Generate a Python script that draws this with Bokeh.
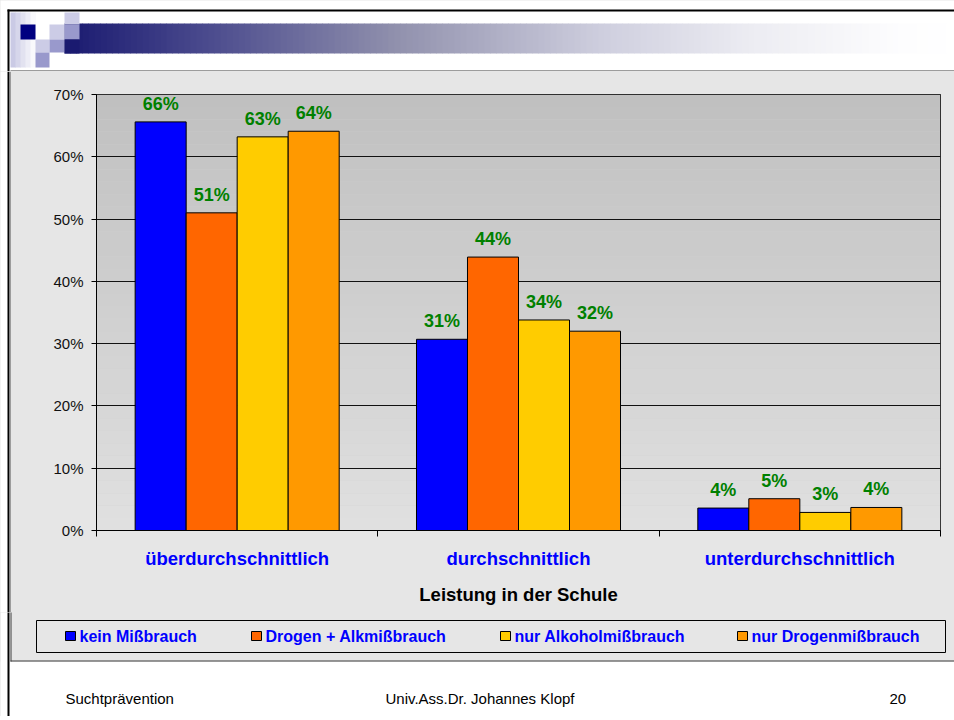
from bokeh.plotting import figure
from bokeh.layouts import column, row
from bokeh.models import (Range1d, FixedTicker, PrintfTickFormatter, BoxAnnotation,
                          ColumnDataSource, LinearAxis, Grid)
from bokeh.core.properties import value
from bokeh.embed import file_html
from bokeh.resources import INLINE

# ---------------- data ----------------
categories = ["überdurchschnittlich", "durchschnittlich", "unterdurchschnittlich"]
series_names = ["kein Mißbrauch", "Drogen + Alkmißbrauch", "nur Alkoholmißbrauch", "nur Drogenmißbrauch"]
kein_missbrauch = [65.6, 30.7, 3.6]
drogen_alkohol = [51.0, 43.9, 5.1]
nur_alkohol = [63.2, 33.8, 2.9]
nur_drogen = [64.1, 32.0, 3.7]
y_ticks = [0, 10, 20, 30, 40, 50, 60, 70]
x_title = "Leistung in der Schule"
footer_texts = ["Suchtprävention", "Univ.Ass.Dr. Johannes Klopf", "20"]

series_values = [kein_missbrauch, drogen_alkohol, nur_alkohol, nur_drogen]
series_colors = ["#0000FF", "#FF6600", "#FFCC00", "#FF9900"]

FONT = "Liberation Sans"
STONE = "#e6e6e6"
EDGE = "#3a3a3a"
PAGE_W = 954


def rgb(c):
    return "#%02x%02x%02x" % tuple(int(round(v)) for v in c)


def lerp(a, b, t):
    return tuple(a[k] + (b[k] - a[k]) * t for k in range(3))


def canvas_fig(x0, y0, w, h, bg):
    f = figure(width=w, height=h, x_range=Range1d(x0, x0 + w), y_range=Range1d(y0 + h, y0),
               min_border=0, x_axis_type=None, y_axis_type=None, toolbar_location=None,
               output_backend="svg")
    f.outline_line_color = None
    f.background_fill_color = bg
    f.border_fill_color = bg
    return f


def rects(f, boxes, colors, line=None):
    f.quad(left=[b[0] for b in boxes], right=[b[2] for b in boxes],
           top=[b[1] for b in boxes], bottom=[b[3] for b in boxes],
           fill_color=colors, line_color=line)


# ---------------- header (page y 0..71) ----------------
hdr = canvas_fig(0, 0, PAGE_W, 71, "white")
stops = [(64, (26, 26, 112)), (200, (72, 72, 140)), (400, (146, 146, 174)),
         (600, (206, 206, 222)), (750, (236, 236, 242)), (900, (253, 253, 254)),
         (960, (255, 255, 255))]
gb, gc = [], []
x = 64
step = 6
while x < PAGE_W:
    xc = x + step / 2
    col = stops[-1][1]
    for (xa, ca), (xb, cb) in zip(stops[:-1], stops[1:]):
        if xa <= xc <= xb:
            col = lerp(ca, cb, (xc - xa) / (xb - xa))
            break
    gb.append((x, 23, x + step + 0.5, 53))
    gc.append(rgb(col))
    x += step
rects(hdr, gb, gc)
fb, fc = [], []
for k in range(5):
    fb.append((10 + 5 * k, 12, 15.5 + 5 * k, 67))
    fc.append(rgb(lerp((196, 196, 226), (255, 255, 255), (k + 0.5) / 5)))
rects(hdr, fb, fc)
sq = [(20, 24, 35, 39), (49, 24, 64, 39), (64, 12, 79, 24), (35, 39, 49, 52),
      (64, 24, 79, 39), (49, 39, 64, 52), (35, 52, 49, 67), (64, 39, 79, 53)]
sqc = ["#000080", "#ccccE6", "#ccccE6", "#ccccE6", "#9999CC", "#9999CC", "#9999CC", "#1a1a70"]
rects(hdr, sq, sqc)
rects(hdr, [(7, 9, PAGE_W, 11), (7, 9, 9, 71), (10, 70, PAGE_W, 71)],
      ["black", "black", EDGE])

# ---------------- left strip (page x 0..11, y 71..612) ----------------
CH = 541
strip = canvas_fig(0, 71, 11, CH, "white")
rects(strip, [(7, 71, 9, 71 + CH), (10, 71, 11, 71 + CH)], ["black", EDGE])

# ---------------- chart (page x 11..954, y 71..612) ----------------
CW = 943
p = figure(width=CW, height=CH, output_backend="svg", toolbar_location=None,
           x_range=Range1d(0, len(categories)), y_range=Range1d(0, 70),
           min_border_left=85, min_border_right=14, min_border_top=23, min_border_bottom=82,
           x_axis_type=None, y_axis_type=None)
p.border_fill_color = STONE
p.background_fill_color = "#d0d0d0"
p.outline_line_color = "black"
p.outline_line_alpha = 1.0

n_strips = 35
bottom_c, top_c = (224, 224, 224), (192, 192, 192)
for k in range(n_strips):
    b0 = 70 * k / n_strips
    b1 = 70 * (k + 1) / n_strips
    col = rgb(lerp(bottom_c, top_c, (k + 0.5) / n_strips))
    p.add_layout(BoxAnnotation(bottom=b0, top=b1, left=0, right=len(categories),
                               fill_color=col, fill_alpha=1, line_color=None, level="image"))

yticker = FixedTicker(ticks=y_ticks, minor_ticks=[])
p.add_layout(Grid(dimension=1, ticker=yticker, grid_line_color="#111111", grid_line_width=1))

yaxis = LinearAxis(ticker=yticker, formatter=PrintfTickFormatter(format="%d%%"),
                   axis_line_color="black", major_tick_out=5, major_tick_in=0,
                   minor_tick_line_color=None, major_tick_line_color="black",
                   major_label_text_font_size="15px", major_label_text_font=FONT,
                   major_label_standoff=8, major_label_text_color="#111111")
p.add_layout(yaxis, "left")

xticker = FixedTicker(ticks=[i + 0.5 for i in range(len(categories))],
                      minor_ticks=list(range(len(categories) + 1)))
xaxis = LinearAxis(ticker=xticker,
                   major_label_overrides={i + 0.5: c for i, c in enumerate(categories)},
                   axis_line_color="black", major_tick_line_color=None,
                   major_tick_out=0, major_tick_in=0,
                   minor_tick_line_color="black", minor_tick_out=6, minor_tick_in=0,
                   major_label_text_font_size="18.5px", major_label_text_font=FONT,
                   major_label_text_font_style="bold", major_label_text_color="#0000FF",
                   major_label_standoff=11,
                   axis_label=x_title, axis_label_text_font=FONT,
                   axis_label_text_font_size="18.5px", axis_label_text_font_style="bold",
                   axis_label_text_color="black", axis_label_standoff=12)
p.add_layout(xaxis, "below")

bw = 0.1813
n_series = len(series_names)
for j, (vals, col) in enumerate(zip(series_values, series_colors)):
    xs = [i + 0.5 + (j - (n_series - 1) / 2) * bw for i in range(len(categories))]
    src = ColumnDataSource(dict(x=xs, top=vals, lab=["%d%%" % round(v) for v in vals]))
    p.vbar(x="x", top="top", width=bw, source=src, fill_color=col,
           line_color="black", line_width=1)
    p.text(x="x", y="top", text="lab", source=src, text_align="center",
           text_baseline="middle", y_offset=-18, text_font=value(FONT),
           text_font_style="bold", text_font_size="18px", text_color="#008000")

# ---------------- bottom part: legend + footer (page y 612..716) ----------------
bot = canvas_fig(0, 612, PAGE_W, 104, STONE)
rects(bot, [(0, 600, 10, 720), (0, 661, PAGE_W + 10, 720)], ["white", "white"])
rects(bot, [(7, 600, 9, 720), (10, 600, 11, 661), (10, 660, PAGE_W + 10, 661)],
      ["black", EDGE, EDGE])
rects(bot, [(36, 620, 945, 652)], [None], line="black")
item_x = [65, 251, 500, 737]
bot.quad(left=item_x, right=[v + 10 for v in item_x], top=[631] * 4, bottom=[640] * 4,
         fill_color=series_colors, line_color="black", line_width=1)
bot.text(x=[v + 14 for v in item_x], y=[636] * 4, text=series_names,
         text_baseline="middle", text_align="left", text_font=value(FONT),
         text_font_style="bold", text_font_size="16px", text_color="#0000FF")
bot.text(x=[65, 385, 889], y=[698] * 3, text=footer_texts, text_baseline="middle",
         text_align="left", text_font=value(FONT), text_font_size="15px", text_color="black")

inner = column(p, spacing=0, styles={"background-color": STONE})
mid = row(strip, inner, spacing=0, styles={"background-color": STONE})
layout = column(hdr, mid, bot, spacing=0, styles={"background-color": STONE})
open("out.html", "w").write(file_html(layout, INLINE))
